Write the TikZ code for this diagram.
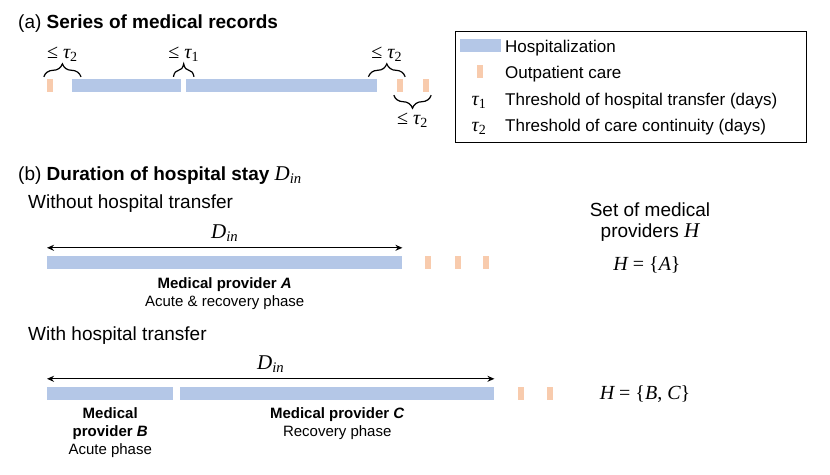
\documentclass[tikz,border=0pt]{standalone}
\usepackage{fontspec}
\setmainfont{Liberation Sans}
\newfontfamily\mfont{Liberation Serif}
\newcommand{\mvar}[1]{{\mfont\itshape #1}}
\newcommand{\din}{{\mfont\mvar{D}\textsubscript{\mvar{in}}}}
\usepackage{tikz}
\usetikzlibrary{arrows.meta,positioning,calc,decorations.pathreplacing}
\definecolor{hospblue}{HTML}{B4C7E7}
\definecolor{outorange}{HTML}{F8CBAD}

\begin{document}
\begin{tikzpicture}[x=1pt,y=-1pt,
  hosp/.style={fill=hospblue,inner sep=0,minimum height=13pt,anchor=west},
  outp/.style={fill=outorange,inner sep=0,minimum width=6pt,minimum height=13pt},
  txt/.style={inner sep=0,font=\fontsize{19}{21}\selectfont},
  prov/.style={inner sep=0,align=center,font=\fontsize{15}{18}\selectfont},
  leg/.style={inner sep=0,anchor=base west,font=\fontsize{17}{20}\selectfont},
  lbl/.style={inner sep=0,font=\fontsize{20}{22}\selectfont\mfont},
  dlbl/.style={inner sep=0,font=\fontsize{21}{23}\selectfont},
  brc/.style={decorate,decoration={brace,amplitude=13pt},line width=1.2pt},
  durarrow/.style={{Stealth[length=7pt,width=6pt]}-{Stealth[length=7pt,width=6pt]},line width=1.2pt}]
  \useasboundingbox (0,0) rectangle (830,474);

  % (a) series of records
  \node[txt,anchor=base west] (ta) at (18,28) {(a) \textbf{Series of medical records}};
  \node[outp] (ao1) at (50,85.5) {};
  \node[hosp,minimum width=109pt] (ah1) at (72,85.5) {};
  \node[hosp,minimum width=191pt] (ah2) at (186,85.5) {};
  \node[outp] (ao2) at (400,85.5) {};
  \node[outp] (ao3) at (426,85.5) {};
  \draw[brc] ([shift={(-3pt,2pt)}]ao1.north west) -- ([shift={(9pt,2pt)}]ah1.north west)
    node[lbl,midway,above=15pt] (g1) {≤ \mvar{τ}\textsubscript{2}};
  \draw[brc] ([shift={(-8pt,2pt)}]ah1.north east) -- ([shift={(8pt,2pt)}]ah2.north west)
    node[lbl,midway,above=15pt] (g2) {≤ \mvar{τ}\textsubscript{1}};
  \draw[brc] ([shift={(-9pt,2pt)}]ah2.north east) -- ([shift={(2pt,2pt)}]ao2.north east)
    node[lbl,midway,above=15pt] (g3) {≤ \mvar{τ}\textsubscript{2}};
  \draw[brc] ([shift={(2pt,-3pt)}]ao3.south east) -- ([shift={(-3pt,-3pt)}]ao2.south west)
    node[lbl,midway,below=17pt] (g4) {≤ \mvar{τ}\textsubscript{2}};

  % legend
  \node[draw,line width=1pt,inner sep=0,minimum width=351pt,minimum height=111pt,anchor=north west] (legend) at (455,31) {};
  \node[hosp,minimum width=41pt] (lh) at (460,45.5) {};
  \node[leg] (lht) at (505,52) {Hospitalization};
  \node[outp] (lo) at (480,71.5) {};
  \node[leg] (lot) at (505,78) {Outpatient care};
  \node[lbl,anchor=base] (lt1) at (479,105) {\mvar{τ}\textsubscript{1}};
  \node[leg] (lt1t) at (505,105) {Threshold of hospital transfer (days)};
  \node[lbl,anchor=base] (lt2) at (479,131) {\mvar{τ}\textsubscript{2}};
  \node[leg] (lt2t) at (505,131) {Threshold of care continuity (days)};

  % (b) duration of stay
  \node[txt,anchor=base west] (tb) at (18,180) {(b) \textbf{Duration of hospital stay} {\fontsize{21}{23}\selectfont\din}};
  \node[txt,anchor=base west] (wo) at (28,208) {Without hospital transfer};
  \node[hosp,minimum width=355pt] (bh) at (47,262.5) {};
  \node[outp] (bo1) at (428,262.5) {};
  \node[outp] (bo2) at (458,262.5) {};
  \node[outp] (bo3) at (486,262.5) {};
  \draw[durarrow] ([yshift=8pt]bh.north west) -- ([yshift=8pt]bh.north east)
    node[dlbl,midway,above=6pt] (d1) {\din};
  \node[prov,below=8pt of bh] (pa) {\textbf{Medical provider \textit{A}}\\Acute \& recovery phase};

  \node[txt,align=center,anchor=north] (hs) at (650,203) {Set of medical\\providers {\fontsize{21}{21}\selectfont\mvar{H}}};
  \node[lbl,anchor=base] (ha) at (647,270) {\mvar{H} = \{\mvar{A}\}};

  \node[txt,anchor=base west] (wi) at (28,340) {With hospital transfer};
  \node[hosp,minimum width=126pt] (ch1) at (47,393.5) {};
  \node[hosp,minimum width=314pt] (ch2) at (180,393.5) {};
  \node[outp] (co1) at (520.5,393.5) {};
  \node[outp] (co2) at (550,393.5) {};
  \draw[durarrow] ([yshift=8pt]ch1.north west) -- ([yshift=8pt]ch2.north east)
    node[dlbl,midway,above=6pt] (d2) {\din};
  \node[prov,below=7pt of ch1] (pb) {\textbf{Medical}\\\textbf{provider \textit{B}}\\Acute phase};
  \node[prov,below=7pt of ch2] (pc) {\textbf{Medical provider \textit{C}}\\Recovery phase};
  \node[lbl,anchor=base] (hbc) at (645,399) {\mvar{H} = \{\mvar{B}, \mvar{C}\}};
\end{tikzpicture}
\end{document}
